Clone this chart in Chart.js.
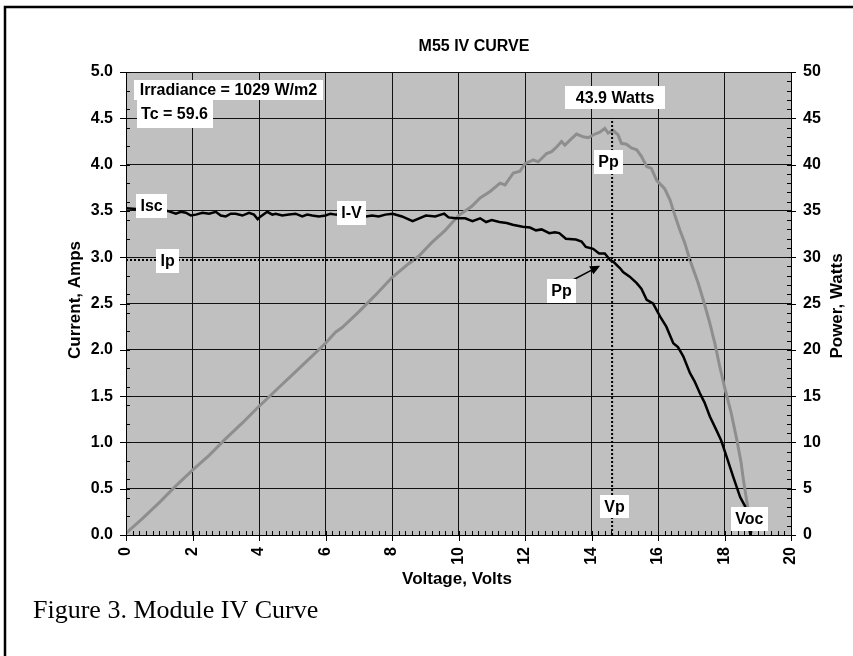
<!DOCTYPE html>
<html>
<head>
<meta charset="utf-8">
<script src="https://cdn.jsdelivr.net/npm/chart.js@4.4.1/dist/chart.umd.min.js"></script>
<style>
  html, body { margin: 0; padding: 0; background: #fff; }
</style>
</head>
<body>
<canvas id="iv-chart" width="853" height="656"></canvas>
<script>
// M55 IV curve - current and power against voltage

const voltsIV = [0, 0.3, 0.8, 1.25, 1.5, 1.65, 1.8, 1.95, 2.1, 2.3, 2.5, 2.7, 2.85, 3.0, 3.15, 3.3, 3.5, 3.7, 3.85, 3.96, 4.05, 4.25, 4.4, 4.5, 4.7, 4.9, 5.1, 5.3, 5.45, 5.6, 5.8, 6.0, 6.15, 6.3, 6.8, 7.22, 7.4, 7.6, 7.8, 8.02, 8.3, 8.62, 9.02, 9.3, 9.57, 9.7, 9.92, 10.2, 10.42, 10.65, 10.83, 11.0, 11.23, 11.45, 11.63, 11.93, 12.15, 12.33, 12.5, 12.73, 12.9, 13.03, 13.23, 13.53, 13.7, 13.83, 14.05, 14.23, 14.4, 14.56, 14.66, 14.86, 14.95, 15.15, 15.36, 15.5, 15.66, 15.85, 16.06, 16.25, 16.46, 16.6, 16.76, 16.96, 17.1, 17.26, 17.4, 17.56, 17.76, 17.9, 18.06, 18.26, 18.47, 18.62, 18.78];
const ampsIV = [3.53, 3.52, 3.51, 3.50, 3.47, 3.49, 3.48, 3.45, 3.46, 3.48, 3.47, 3.49, 3.45, 3.44, 3.47, 3.47, 3.45, 3.48, 3.46, 3.41, 3.44, 3.49, 3.46, 3.47, 3.45, 3.46, 3.47, 3.44, 3.46, 3.45, 3.44, 3.45, 3.47, 3.46, 3.45, 3.44, 3.45, 3.44, 3.46, 3.47, 3.44, 3.39, 3.45, 3.44, 3.47, 3.43, 3.42, 3.42, 3.39, 3.42, 3.38, 3.40, 3.38, 3.37, 3.35, 3.33, 3.32, 3.29, 3.30, 3.26, 3.27, 3.26, 3.20, 3.19, 3.17, 3.11, 3.09, 3.04, 3.04, 2.97, 2.95, 2.88, 2.84, 2.79, 2.72, 2.66, 2.54, 2.50, 2.36, 2.25, 2.07, 2.03, 1.93, 1.75, 1.66, 1.53, 1.43, 1.28, 1.13, 1.02, 0.85, 0.63, 0.41, 0.31, 0.0];

const voltsPower = [0, 0.5, 1.0, 1.5, 2.0, 2.5, 3.0, 3.5, 4.0, 4.3, 4.5, 5.0, 5.5, 6.0, 6.3, 6.5, 7.0, 7.5, 8.0, 8.5, 8.8, 9.2, 9.6, 10.0, 10.4, 10.65, 10.95, 11.25, 11.4, 11.65, 11.85, 12.0, 12.25, 12.4, 12.65, 12.8, 12.95, 13.1, 13.2, 13.4, 13.55, 13.75, 13.9, 14.1, 14.25, 14.4, 14.5, 14.65, 14.8, 14.9, 15.05, 15.2, 15.36, 15.5, 15.66, 15.8, 15.96, 16.2, 16.36, 16.5, 16.66, 16.8, 16.96, 17.2, 17.36, 17.55, 17.71, 17.85, 18.0, 18.2, 18.37, 18.5, 18.57, 18.7, 18.82];
const wattsPower = [0.2, 1.8, 3.5, 5.3, 7.0, 8.6, 10.4, 12.1, 13.9, 14.9, 15.6, 17.3, 19.0, 20.7, 21.9, 22.4, 24.1, 25.9, 27.8, 29.3, 30.1, 31.6, 32.9, 34.5, 35.5, 36.4, 37.1, 38.0, 37.8, 39.1, 39.3, 40.1, 40.5, 40.3, 41.2, 41.4, 41.9, 42.5, 42.1, 42.8, 43.3, 43.0, 42.9, 43.3, 43.5, 43.9, 43.4, 43.7, 43.2, 42.3, 42.2, 41.8, 41.6, 40.9, 39.8, 39.6, 38.3, 37.4, 36.2, 34.6, 32.9, 31.6, 29.7, 27.3, 25.4, 23.0, 20.7, 18.3, 16.0, 13.2, 10.3, 7.8, 5.9, 3.0, 0.2];

// max power point and the dotted guide lines through it
const vp = 14.62;
const ip = 2.97;
const ipLineEnd = 17.0;
const vpLineTop = 4.5;

// boxed labels: text, centre (volts, amps), horizontal padding, box height
const labelText = ['Irradiance = 1029 W/m2', 'Tc = 59.6', '43.9 Watts', 'Isc', 'I-V', 'Ip', 'Pp', 'Pp', 'Vp', 'Voc'];
const labelVolts = [3.08, 1.46, 14.71, 0.77, 6.78, 1.25, 14.51, 13.10, 14.69, 18.75];
const labelAmps = [4.806, 4.546, 4.725, 3.553, 3.477, 2.959, 4.028, 2.635, 0.308, 0.173];
const labelPad = [6, 4.5, 10.5, 4.5, 4.5, 4.5, 4.5, 4.5, 4.5, 4.5];
const labelHeight = [20, 28, 23, 24, 24, 24, 24, 24, 23, 24];

// arrow from the lower Pp box to the max power point
const arrowFrom = [13.44, 2.754];
const arrowTo = [14.26, 2.908];

const FONT = "'Liberation Sans', Arial, sans-serif";
const toXY = (xs, ys) => xs.map((x, k) => ({ x, y: ys[k] }));

const decorPlugin = {
  id: 'decor',
  beforeDraw(chart) {
    const { ctx, chartArea: a } = chart;
    ctx.save();
    ctx.fillStyle = '#fff';
    ctx.fillRect(0, 0, chart.width, chart.height);
    ctx.fillStyle = '#c0c0c0';
    ctx.fillRect(a.left, a.top, a.right - a.left, a.bottom - a.top);
    ctx.strokeStyle = '#000';
    ctx.lineWidth = 2.5;
    ctx.strokeRect(5, 7, chart.width + 20, chart.height + 20);

    ctx.fillStyle = '#000';
    ctx.font = 'bold 16px ' + FONT;
    ctx.textAlign = 'center';
    ctx.textBaseline = 'middle';
    ctx.fillText('M55 IV CURVE', 474, 47);

    ctx.font = 'bold 17px ' + FONT;
    ctx.fillText('Voltage, Volts', 457, 579);
    ctx.save();
    ctx.translate(75, 300);
    ctx.rotate(-Math.PI / 2);
    ctx.fillText('Current, Amps', 0, 0);
    ctx.restore();
    ctx.save();
    ctx.translate(837, 306);
    ctx.rotate(-Math.PI / 2);
    ctx.fillText('Power, Watts', 0, 0);
    ctx.restore();

    ctx.textAlign = 'left';
    ctx.textBaseline = 'alphabetic';
    ctx.font = "26px 'Liberation Serif', 'Times New Roman', serif";
    ctx.fillText('Figure 3. Module IV Curve', 33, 618);
    ctx.restore();
  },
  afterDatasetsDraw(chart) {
    const { ctx, chartArea: a } = chart;
    const x = chart.scales.x, yI = chart.scales.yI, yP = chart.scales.yP;
    ctx.save();
    ctx.strokeStyle = '#000';
    ctx.lineWidth = 1;
    ctx.beginPath();
    // voltage ticks: minor inside every 0.2, major outside every 2
    for (let k = 0; k <= 100; k++) {
      const px = Math.round(x.getPixelForValue(k * 0.2)) + 0.5;
      if (k % 10 === 0) { ctx.moveTo(px, a.bottom - 4); ctx.lineTo(px, a.bottom + 6); }
      else { ctx.moveTo(px, a.bottom - 4); ctx.lineTo(px, a.bottom); }
    }
    // current ticks: minor every 0.2, major every 0.5
    for (let k = 0; k <= 25; k++) {
      const py = Math.round(yI.getPixelForValue(k * 0.2)) + 0.5;
      ctx.moveTo(a.left, py); ctx.lineTo(a.left + 4, py);
    }
    for (let k = 0; k <= 10; k++) {
      const py = Math.round(yI.getPixelForValue(k * 0.5)) + 0.5;
      ctx.moveTo(a.left - 6, py); ctx.lineTo(a.left + 4, py);
    }
    // power ticks: minor every 1 W, major every 5 W
    for (let k = 0; k <= 50; k++) {
      const py = Math.round(yP.getPixelForValue(k)) + 0.5;
      if (k % 5 === 0) { ctx.moveTo(a.right - 4, py); ctx.lineTo(a.right + 5, py); }
      else { ctx.moveTo(a.right - 4, py); ctx.lineTo(a.right, py); }
    }
    ctx.stroke();

    // arrow
    const x0 = x.getPixelForValue(arrowFrom[0]), y0 = yI.getPixelForValue(arrowFrom[1]);
    const x1 = x.getPixelForValue(arrowTo[0]), y1 = yI.getPixelForValue(arrowTo[1]);
    const ang = Math.atan2(y1 - y0, x1 - x0);
    ctx.lineWidth = 1.5;
    ctx.beginPath();
    ctx.moveTo(x0, y0);
    ctx.lineTo(x1 - 8 * Math.cos(ang), y1 - 8 * Math.sin(ang));
    ctx.stroke();
    ctx.beginPath();
    ctx.moveTo(x1, y1);
    ctx.lineTo(x1 - 10 * Math.cos(ang) + 4.5 * Math.sin(ang), y1 - 10 * Math.sin(ang) - 4.5 * Math.cos(ang));
    ctx.lineTo(x1 - 10 * Math.cos(ang) - 4.5 * Math.sin(ang), y1 - 10 * Math.sin(ang) + 4.5 * Math.cos(ang));
    ctx.closePath();
    ctx.fillStyle = '#000';
    ctx.fill();

    // boxed labels
    ctx.font = 'bold 16px ' + FONT;
    ctx.textAlign = 'center';
    ctx.textBaseline = 'middle';
    labelText.forEach((t, k) => {
      const cx = x.getPixelForValue(labelVolts[k]);
      const cy = yI.getPixelForValue(labelAmps[k]);
      const w = ctx.measureText(t).width + 2 * labelPad[k];
      const h = labelHeight[k];
      ctx.fillStyle = '#fff';
      ctx.fillRect(Math.round(cx - w / 2), Math.round(cy - h / 2), Math.round(w), h);
      ctx.fillStyle = '#000';
      ctx.fillText(t, cx, cy + 1);
    });
    ctx.restore();
  }
};

new Chart(document.getElementById('iv-chart'), {
  type: 'line',
  data: {
    datasets: [
      {
        label: 'I-V',
        data: toXY(voltsIV, ampsIV),
        yAxisID: 'yI',
        borderColor: '#000',
        borderWidth: 2.5,
        pointRadius: 0,
        order: 1
      },
      {
        label: 'Power',
        data: toXY(voltsPower, wattsPower),
        yAxisID: 'yP',
        borderColor: '#8e8e8e',
        borderWidth: 3,
        pointRadius: 0,
        order: 2
      },
      {
        label: 'Ip',
        data: toXY([0, ipLineEnd], [ip, ip]),
        yAxisID: 'yI',
        borderColor: '#000',
        borderWidth: 2,
        borderDash: [2, 2],
        pointRadius: 0,
        order: 0
      },
      {
        label: 'Vp',
        data: toXY([vp, vp], [0, vpLineTop]),
        yAxisID: 'yI',
        borderColor: '#000',
        borderWidth: 2,
        borderDash: [2, 2],
        pointRadius: 0,
        order: 0
      }
    ]
  },
  options: {
    responsive: false,
    animation: false,
    layout: { padding: { top: 72, left: 0, right: 0, bottom: 0 } },
    plugins: { legend: { display: false }, tooltip: { enabled: false } },
    scales: {
      x: {
        type: 'linear',
        min: 0,
        max: 20,
        afterFit: s => { s.height = 121; },
        ticks: {
          stepSize: 2,
          minRotation: 90,
          maxRotation: 90,
          autoSkip: false,
          padding: 12,
          color: '#000',
          font: { family: FONT, size: 16, weight: 'bold' }
        },
        grid: { color: '#111', lineWidth: 1, drawTicks: false },
        border: { color: '#000', width: 1 }
      },
      yI: {
        position: 'left',
        min: 0,
        max: 5,
        afterFit: s => { s.width = 126; },
        ticks: {
          stepSize: 0.5,
          padding: 13,
          color: '#000',
          callback: v => v.toFixed(1),
          font: { family: FONT, size: 16, weight: 'bold' }
        },
        grid: { color: '#111', lineWidth: 1, drawTicks: false },
        border: { color: '#000', width: 1 }
      },
      yP: {
        position: 'right',
        min: 0,
        max: 50,
        afterFit: s => { s.width = 62; },
        ticks: {
          stepSize: 5,
          padding: 12,
          color: '#000',
          font: { family: FONT, size: 16, weight: 'bold' }
        },
        grid: { display: false, drawTicks: false },
        border: { color: '#000', width: 1 }
      }
    }
  },
  plugins: [decorPlugin]
});
</script>
</body>
</html>
